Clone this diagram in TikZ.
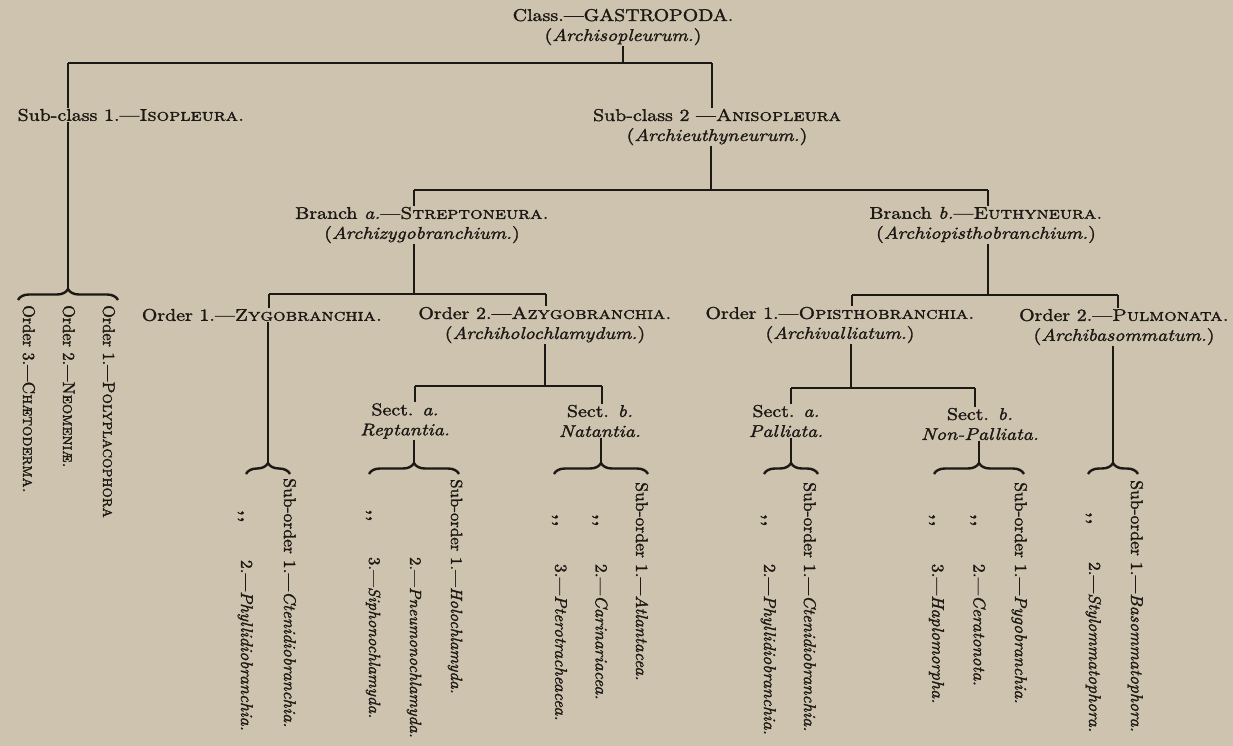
\documentclass[tikz,border=0pt]{standalone}
\usepackage{fontspec}
\setmainfont{lmroman10}[Extension=.otf, Ligatures=TeX, UprightFont=*-regular, ItalicFont=*-italic,
  BoldFont=*-bold, BoldItalicFont=*-bolditalic, SmallCapsFont=lmromancaps10-regular,
  FakeStretch=1.17, FakeBold=1.6]
\newfontfamily\rotfont{lmroman10}[Extension=.otf, Ligatures=TeX, UprightFont=*-regular, ItalicFont=*-italic,
  BoldFont=*-bold, BoldItalicFont=*-bolditalic, SmallCapsFont=lmromancaps10-regular,
  FakeStretch=1.04, FakeBold=1.6]
\newfontfamily\rotscfont{lmroman10}[Extension=.otf, Ligatures=TeX, UprightFont=*-regular, ItalicFont=*-italic,
  BoldFont=*-bold, BoldItalicFont=*-bolditalic, SmallCapsFont=lmromancaps10-regular,
  FakeStretch=0.96, FakeBold=1.6]
\usetikzlibrary{decorations.pathreplacing}
\definecolor{paper}{RGB}{205,195,174}
\definecolor{ink}{RGB}{28,24,20}
\newcommand{\ditto}{\textbf{,\kern1pt,}}
\begin{document}
\begin{tikzpicture}[x=1pt,y=-1pt,
  lbl/.style={inner sep=1pt, align=center, text=ink, font=\fontsize{17}{20}\selectfont},
  rot/.style={inner sep=0pt, rotate=-90, anchor=base west, text=ink, font=\rotfont\fontsize{17}{20}\selectfont},
  rotsc/.style={rot, font=\rotscfont\fontsize{17}{20}\selectfont},
  tree/.style={draw=ink, line width=2pt},
  brc/.style={draw=ink, line width=2.4pt, decorate, decoration={brace, amplitude=11pt}}]
\fill[paper] (0,0) rectangle (1233,746);
\useasboundingbox (0,0) rectangle (1233,746);

% ---------- horizontal labels ----------
\node[lbl] (class) at (623,27) {Class.---GASTROPODA.\\(\textit{Archisopleurum.})};
\node[lbl] (isop) at (131,115) {Sub-class 1.---\textsc{Isopleura.}};
\node[lbl] (aniso) at (717,127) {Sub-class 2 ---\textsc{Anisopleura}\\(\textit{Archieuthyneurum.})};
\node[lbl] (strep) at (422,225) {Branch \textit{a.}---\textsc{Streptoneura.}\\(\textit{Archizygobranchium.})};
\node[lbl] (euth) at (986,225) {Branch \textit{b.}---\textsc{Euthyneura.}\\(\textit{Archiopisthobranchium.})};
\node[lbl] (zygo) at (262,315) {Order 1.---\textsc{Zygobranchia.}};
\node[lbl] (azygo) at (545,325) {Order 2.---\textsc{Azygobranchia.}\\(\textit{Archiholochlamydum.})};
\node[lbl] (opis) at (840,325) {Order 1.---\textsc{Opisthobranchia.}\\(\textit{Archivalliatum.})};
\node[lbl] (pulm) at (1124,327) {Order 2.---\textsc{Pulmonata.}\\(\textit{Archibasommatum.})};
\node[lbl] (rept) at (405,421) {Sect. \textit{a.}\\\textit{Reptantia.}};
\node[lbl] (nat) at (600,421) {Sect. \textit{b.}\\\textit{Natantia.}};
\node[lbl] (pall) at (786,421) {Sect. \textit{a.}\\\textit{Palliata.}};
\node[lbl] (nonp) at (980,424) {Sect. \textit{b.}\\\textit{Non-Palliata.}};

% ---------- rotated lists ----------
\node[rotsc] (isoord) at (103,305) {\def\arraystretch{2.0}\begin{tabular}[t]{@{}l@{}}
  Order 1.---\textsc{Polyplacophora}\\
  Order 2.---\textsc{Neomeni\ae.}\\
  Order 3.---\textsc{Ch\ae toderma.}\end{tabular}};
\node[rot] (zygosub) at (284,478) {\def\arraystretch{2.15}\begin{tabular}[t]{@{}c@{ }l@{}}
  Sub-order & 1.---\textit{Ctenidiobranchia.}\\
  \ditto & 2.---\textit{Phyllidiobranchia.}\end{tabular}};
\node[rot, font=\rotfont\fontsize{16.2}{20}\selectfont] (reptsub) at (451,479) {\def\arraystretch{2.05}\begin{tabular}[t]{@{}c@{ }l@{}}
  Sub-order & 1.---\textit{Holochlamyda.}\\
   & 2.---\textit{Pneumonochlamyda.}\\
  \ditto & 3.---\textit{Siphonochlamyda.}\end{tabular}};
\node[rot] (natsub) at (636,482) {\def\arraystretch{2.02}\begin{tabular}[t]{@{}c@{ }l@{}}
  Sub-order & 1.---\textit{Atlantacea.}\\
  \ditto & 2.---\textit{Carinariacea.}\\
  \ditto & 3.---\textit{Pterotracheacea.}\end{tabular}};
\node[rot] (pallsub) at (804,482) {\def\arraystretch{2.0}\begin{tabular}[t]{@{}c@{ }l@{}}
  Sub-order & 1.---\textit{Ctenidiobranchia.}\\
  \ditto & 2.---\textit{Phyllidiobranchia.}\end{tabular}};
\node[rot] (nonpsub) at (1015,482) {\def\arraystretch{2.07}\begin{tabular}[t]{@{}c@{ }l@{}}
  Sub-order & 1.---\textit{Pygobranchia.}\\
  \ditto & 2.---\textit{Ceratonota.}\\
  \ditto & 3.---\textit{Haplomorpha.}\end{tabular}};
\node[rot] (pulmsub) at (1131,480) {\def\arraystretch{2.1}\begin{tabular}[t]{@{}c@{ }l@{}}
  Sub-order & 1.---\textit{Basommatophora.}\\
  \ditto & 2.---\textit{Stylommatophora.}\end{tabular}};

% ---------- tree connectors ----------
\coordinate (r0) at (623,63);  \coordinate (r0l) at (68,63);  \coordinate (r0r) at (712,63);
\draw[tree] (class.south) -- (class.south |- r0);
\draw[tree] (r0l) -- (r0r);
\draw[tree] (r0l) -- (r0l |- isop.north);
\draw[tree] (r0r) -- (r0r |- aniso.north);
\coordinate (t0) at (68,289);
\draw[tree] (isop.south -| t0) -- (t0);

\coordinate (r1) at (711,190); \coordinate (r1l) at (414,190); \coordinate (r1r) at (988,190);
\draw[tree] (aniso.south -| r1) -- (r1);
\draw[tree] (r1l) -- (r1r);
\draw[tree] (r1l) -- (strep.north -| r1l);
\draw[tree] (r1r) -- (euth.north -| r1r);

\coordinate (r2) at (414,294); \coordinate (r2l) at (269,294); \coordinate (r2r) at (546,294);
\draw[tree] (strep.south -| r2) -- (r2);
\draw[tree] (r2l) -- (r2r);
\draw[tree] (r2l) -- (zygo.north -| r2l);
\draw[tree] (r2r) -- (azygo.north -| r2r);

\coordinate (r3) at (988,295); \coordinate (r3l) at (852,295); \coordinate (r3r) at (1118,295);
\draw[tree] (euth.south -| r3) -- (r3);
\draw[tree] (r3l) -- (r3r);
\draw[tree] (r3l) -- (opis.north -| r3l);
\draw[tree] (r3r) -- (pulm.north -| r3r);

\coordinate (t1) at (268,463);
\draw[tree] (zygo.south -| t1) -- (t1);

\coordinate (r4) at (545,386); \coordinate (r4l) at (415,386); \coordinate (r4r) at (602,386);
\draw[tree] (azygo.south -| r4) -- (r4);
\draw[tree] (r4l) -- (r4r);
\draw[tree] (r4l) -- (rept.north -| r4l);
\draw[tree] (r4r) -- (nat.north -| r4r);
\coordinate (t2) at (414,463);
\draw[tree] (rept.south -| t2) -- (t2);
\coordinate (t3) at (601,463);
\draw[tree] (nat.south -| t3) -- (t3);

\coordinate (r5) at (851,388); \coordinate (r5l) at (791,388); \coordinate (r5r) at (975,388);
\draw[tree] (opis.south -| r5) -- (r5);
\draw[tree] (r5l) -- (r5r);
\draw[tree] (r5l) -- (pall.north -| r5l);
\draw[tree] (r5r) -- (nonp.north -| r5r);
\coordinate (t4) at (791,463);
\draw[tree] (pall.south -| t4) -- (t4);
\coordinate (t5) at (979,463);
\draw[tree] (nonp.south -| t5) -- (t5);

\coordinate (t6) at (1113,463);
\draw[tree] (pulm.south -| t6) -- (t6);

% ---------- braces ----------
\draw[brc] (18,300) -- (118,300);
\draw[brc] (246,474) -- (290,474);
\draw[brc] (369,474) -- (459,474);
\draw[brc] (554,474) -- (648,474);
\draw[brc] (764,474) -- (818,474);
\draw[brc] (934,474) -- (1024,474);
\draw[brc] (1088,474) -- (1138,474);
\end{tikzpicture}
\end{document}
